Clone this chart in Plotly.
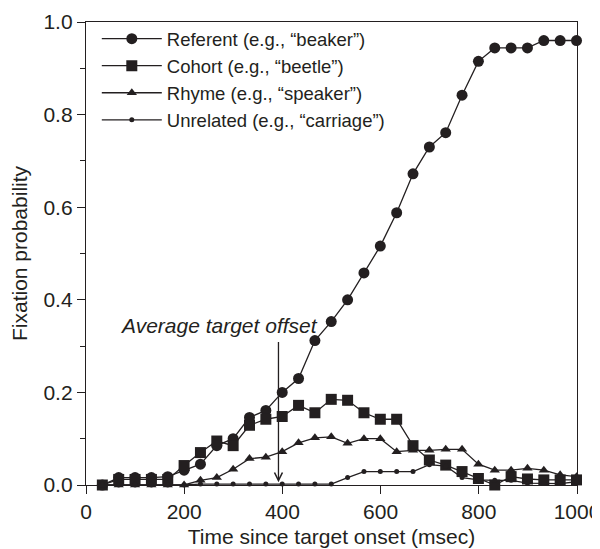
import plotly.graph_objects as go

time_ms = [33.3 * k for k in range(1, 31)]

referent = [0.0, 0.016, 0.016, 0.016, 0.018, 0.032, 0.045, 0.085, 0.10, 0.146,
            0.161, 0.20, 0.23, 0.312, 0.353, 0.40, 0.458, 0.516, 0.588, 0.672,
            0.73, 0.761, 0.842, 0.915, 0.944, 0.944, 0.944, 0.96, 0.96, 0.96]
cohort = [0.0, 0.012, 0.012, 0.012, 0.012, 0.042, 0.07, 0.095, 0.085, 0.129,
          0.142, 0.148, 0.172, 0.156, 0.185, 0.183, 0.156, 0.142, 0.142, 0.085,
          0.054, 0.043, 0.029, 0.014, 0.0, 0.018, 0.013, 0.011, 0.011, 0.011]
rhyme = [0.0, 0.0, 0.0, 0.0, 0.0, 0.0, 0.01, 0.016, 0.034, 0.057,
         0.06, 0.072, 0.091, 0.102, 0.104, 0.09, 0.10, 0.10, 0.072, 0.075,
         0.075, 0.077, 0.077, 0.045, 0.032, 0.032, 0.036, 0.032, 0.022, 0.018]
unrelated = [0.0, 0.0, 0.0, 0.0, 0.0, 0.0, 0.002, 0.002, 0.002, 0.002,
             0.002, 0.002, 0.002, 0.002, 0.002, 0.016, 0.029, 0.029, 0.029, 0.029,
             0.044, 0.041, 0.016, 0.011, 0.01, 0.01, 0.004, 0.003, 0.003, 0.007]

series_names = ["Referent (e.g., \u201cbeaker\u201d)", "Cohort (e.g., \u201cbeetle\u201d)",
                "Rhyme (e.g., \u201cspeaker\u201d)", "Unrelated (e.g., \u201ccarriage\u201d)"]
x_ticks = [0, 200, 400, 600, 800, 1000]
y_ticks = [0.0, 0.2, 0.4, 0.6, 0.8, 1.0]
offset_time = 392

INK = "#231f20"
FONT = "Liberation Sans, Arial, sans-serif"

fig = go.Figure()
styles = [("circle", 11), ("square", 11), ("triangle-up", 9), ("circle", 5)]
for name, vals, (sym, sz) in zip(series_names, [referent, cohort, rhyme, unrelated], styles):
    fig.add_trace(go.Scatter(
        x=time_ms, y=vals, mode="lines+markers", name=name,
        line=dict(color=INK, width=1.3),
        marker=dict(symbol=sym, size=sz, color=INK, line=dict(width=0)),
        cliponaxis=False,
    ))

fig.add_annotation(x=offset_time, y=0.006, ax=offset_time, ay=0.312,
                   xref="x", yref="y", axref="x", ayref="y",
                   showarrow=True, arrowhead=5, arrowsize=1.2, arrowwidth=1.3,
                   arrowcolor=INK, text="")
fig.add_annotation(x=270, y=0.344, xref="x", yref="y", showarrow=False,
                   text="<i>Average target offset</i>",
                   font=dict(family=FONT, size=21, color=INK))

fig.update_layout(
    width=600, height=549,
    margin=dict(l=78, r=31, t=12, b=72),
    paper_bgcolor="white", plot_bgcolor="white",
    font=dict(family=FONT, size=20, color=INK),
    showlegend=True,
    legend=dict(x=0.022, y=1.004, xanchor="left", yanchor="top",
                bgcolor="rgba(0,0,0,0)", font=dict(size=18.5, color=INK),
                itemwidth=60, tracegroupgap=0),
    xaxis=dict(range=[0, 1000], tickvals=x_ticks, ticks="outside", ticklen=8,
               tickwidth=1.2, tickcolor=INK, showline=True, linecolor=INK,
               linewidth=1.3, mirror=True, showgrid=False, zeroline=False,
               automargin=False, ticklabeloverflow="allow",
               title=dict(text="Time since target onset (msec)", font=dict(size=21), standoff=6),
               tickfont=dict(size=21)),
    yaxis=dict(range=[0, 1.0], tickvals=y_ticks, tickformat=".1f", ticks="outside",
               ticklen=8, tickwidth=1.2, tickcolor=INK, showline=True, linecolor=INK,
               linewidth=1.3, mirror=True, showgrid=False, zeroline=False,
               automargin=False, ticklabeloverflow="allow",
               minor=dict(dtick=0.1, ticklen=5, tickwidth=1.2, tickcolor=INK, ticks="outside"),
               title=dict(text="Fixation probability", font=dict(size=21), standoff=14),
               tickfont=dict(size=21)),
)

fig.write_html("out.html")
